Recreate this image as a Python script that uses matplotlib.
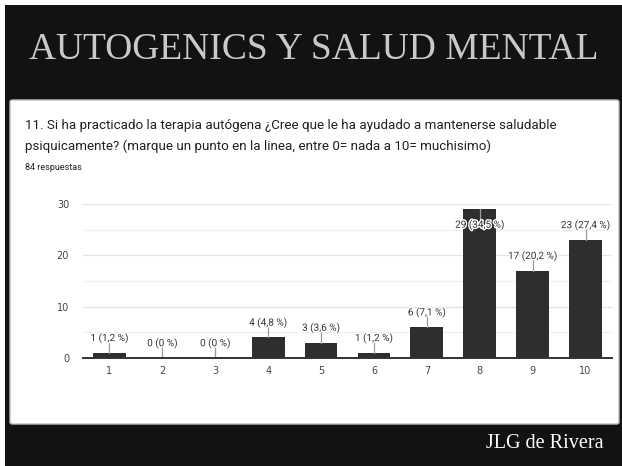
import matplotlib
matplotlib.use("Agg")
import matplotlib.pyplot as plt
from matplotlib.patches import Rectangle, FancyBboxPatch
import matplotlib.patheffects as pe

categories = ["1", "2", "3", "4", "5", "6", "7", "8", "9", "10"]
counts = [1, 0, 0, 4, 3, 1, 6, 29, 17, 23]
percents = ["1,2", "0", "0", "4,8", "3,6", "1,2", "7,1", "34,5", "20,2", "27,4"]
yticks = [0, 10, 20, 30]

W, H = 622, 466
fig = plt.figure(figsize=(W / 100, H / 100), dpi=100)
fig.patch.set_facecolor("white")

def fx(px):
    return px / W

def fy(py):
    return 1 - py / H

# black slide background
fig.patches.append(Rectangle((fx(5), 0), 1 - fx(5), fy(5), transform=fig.transFigure,
                             facecolor="#121212", edgecolor="none", zorder=0))
# white card
fig.patches.append(FancyBboxPatch((fx(10), fy(424)), fx(609), (424 - 100) / H,
                                  boxstyle="round,pad=0,rounding_size=0.004",
                                  transform=fig.transFigure, facecolor="white",
                                  edgecolor="#bdbdbd", linewidth=1.0, zorder=1))

fig.text(fx(314), fy(50), "AUTOGENICS Y SALUD MENTAL", family="Liberation Serif",
         fontsize=27, color="#c9c9c9", ha="center", va="center")
fig.text(fx(604), fy(444), "JLG de Rivera", family="Liberation Serif",
         fontsize=14.5, color="white", ha="right", va="center")

fig.text(fx(25), fy(125), "11. Si ha practicado la terapia autógena ¿Cree que le ha ayudado a mantenerse saludable",
         family="Roboto", fontsize=9.6, color="#202020", ha="left", va="center")
fig.text(fx(25), fy(146), "psiquicamente? (marque un punto en la linea, entre 0= nada a 10= muchisimo)",
         family="Roboto", fontsize=9.6, color="#202020", ha="left", va="center")
fig.text(fx(25), fy(168), "84 respuestas", family="Roboto", fontsize=6.5,
         color="#202020", ha="left", va="center")

ax = fig.add_axes([fx(83), fy(358), (612 - 83) / W, (358 - 204) / H])
ax.set_zorder(2)
ax.patch.set_alpha(0)
x = list(range(1, len(categories) + 1))
ax.bar(x, counts, width=0.62, color="#2e2e2e", zorder=3)
ax.set_xlim(0.5, 10.5)
ax.set_ylim(0, 30)
ax.set_yticks(yticks)
ax.set_yticks([5, 15, 25], minor=True)
ax.set_xticks(x)
ax.set_xticklabels(categories)
ax.grid(axis="y", which="major", color="#e3e3e3", linewidth=0.9, zorder=0)
ax.grid(axis="y", which="minor", color="#efefef", linewidth=0.9, zorder=0)
for s in ["top", "right", "left"]:
    ax.spines[s].set_visible(False)
ax.spines["bottom"].set_color("#333333")
ax.spines["bottom"].set_linewidth(1.4)
ax.spines["bottom"].set_zorder(4)
ax.tick_params(axis="both", which="both", length=0, labelsize=7, labelcolor="#444444")
ax.tick_params(axis="x", pad=6)
ax.tick_params(axis="y", pad=10)

unit = (358 - 204) / 30.0  # pixels per unit
for xi, c, p in zip(x, counts, percents):
    ly = min(c + 15 / unit, 26.0)
    ax.plot([xi, xi], [c, ly - 4 / unit] if ly > c else [c, ly + 4 / unit],
            color="#9a9a9a", linewidth=0.9, zorder=4)
    ax.text(xi, ly, f"{c} ({p} %)", ha="center", va="center", fontsize=7.2,
            color="#333333", family="Roboto", zorder=5,
            path_effects=[pe.withStroke(linewidth=2, foreground="white")])

fig.savefig("out.png", dpi=100, facecolor=fig.get_facecolor())
